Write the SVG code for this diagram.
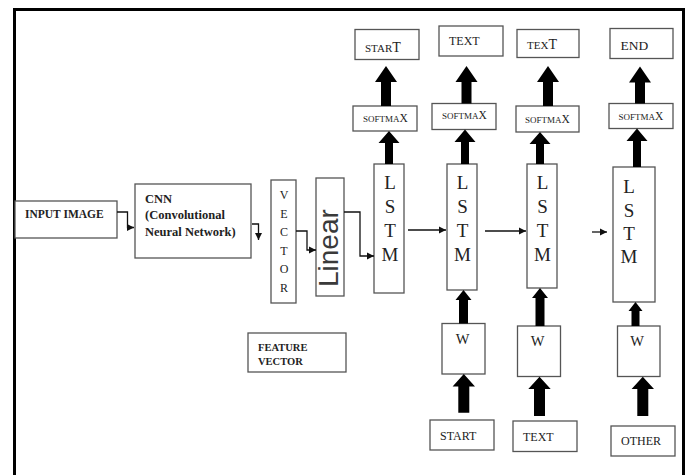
<svg xmlns="http://www.w3.org/2000/svg" width="688" height="475" viewBox="0 0 688 475">
<defs>
<style>
.box{fill:#fff;stroke:#555;stroke-width:1.3}
.t{font-family:"Liberation Serif","Times New Roman",serif;fill:#222}
.b{font-weight:bold}
.conn{fill:none;stroke:#111;stroke-width:1.3}
.big{fill:#000}
.frame{stroke:#000;stroke-width:3;fill:none}
</style>
<marker id="ah" markerWidth="8" markerHeight="8" refX="7" refY="4" orient="auto" markerUnits="userSpaceOnUse">
<path d="M0,0.5 L7,4 L0,7.5 Z" fill="#111"/>
</marker>
</defs>
<rect width="688" height="475" fill="#fff"/>
<path class="frame" d="M14.5,475 V9.5 H683.5 V475"/>

<g id="input-image"><rect class="box" x="15" y="201" width="102" height="37"/><text class="t b" x="25" y="218" font-size="11.5">INPUT IMAGE</text></g>
<g id="cnn"><rect class="box" x="135" y="184" width="116" height="74"/>
<text class="t b" x="145" y="203" font-size="12.5">CNN</text>
<text class="t b" x="145" y="219" font-size="12.5">(Convolutional</text>
<text class="t b" x="145" y="236" font-size="12.5">Neural Network)</text></g>
<g id="vector"><rect class="box" x="271" y="180" width="25" height="123"/>
<g class="t" font-size="12" text-anchor="middle"><text x="284" y="199">V</text><text x="284" y="217.5">E</text><text x="284" y="236">C</text><text x="284" y="254.5">T</text><text x="284" y="273">O</text><text x="284" y="291.5">R</text></g></g>
<g id="linear"><rect class="box" x="316" y="178" width="28" height="118"/>
<text transform="translate(338,287) rotate(-90)" font-family="'Liberation Sans',Arial,sans-serif" font-size="28" fill="#3a3a3a">Linear</text></g>
<g id="feature-vector"><rect class="box" x="248" y="333" width="98" height="39"/>
<text class="t b" x="258" y="351" font-size="10.5">FEATURE</text><text class="t b" x="258" y="364.5" font-size="10.5">VECTOR</text></g>

<g id="lstm1"><rect class="box" x="374" y="164" width="30" height="129"/>
<g class="t" font-size="19" text-anchor="middle"><text x="390" y="189">L</text><text x="390" y="213">S</text><text x="390" y="237">T</text><text x="390" y="261">M</text></g></g>
<g id="lstm2"><rect class="box" x="447" y="164" width="30" height="126"/>
<g class="t" font-size="19" text-anchor="middle"><text x="462.5" y="189">L</text><text x="462.5" y="213">S</text><text x="462.5" y="237">T</text><text x="462.5" y="261">M</text></g></g>
<g id="lstm3"><rect class="box" x="527" y="164" width="30" height="124"/>
<g class="t" font-size="19" text-anchor="middle"><text x="542.5" y="189">L</text><text x="542.5" y="213">S</text><text x="542.5" y="237">T</text><text x="542.5" y="261">M</text></g></g>
<g id="lstm4"><rect class="box" x="613" y="167" width="42" height="135"/>
<g class="t" font-size="19" text-anchor="middle"><text x="629" y="193">L</text><text x="629" y="217">S</text><text x="629" y="240">T</text><text x="629" y="263">M</text></g></g>

<g id="softmax1"><rect class="box" x="353" y="106" width="64" height="25"/><text class="t" x="363" y="122" font-size="9">SOFTMA<tspan font-size="11.5">X</tspan></text></g>
<g id="softmax2"><rect class="box" x="432" y="103.5" width="64" height="26"/><text class="t" x="442" y="119" font-size="9">SOFTMA<tspan font-size="11.5">X</tspan></text></g>
<g id="softmax3"><rect class="box" x="516" y="106" width="63" height="26"/><text class="t" x="525" y="122.5" font-size="9">SOFTMA<tspan font-size="11.5">X</tspan></text></g>
<g id="softmax4"><rect class="box" x="609" y="103.5" width="64" height="25"/><text class="t" x="618.5" y="119.5" font-size="9">SOFTMA<tspan font-size="11.5">X</tspan></text></g>

<g id="out-start"><rect class="box" x="355" y="29.5" width="64" height="30"/><text class="t" x="365" y="51.5" font-size="11">STAR<tspan font-size="14">T</tspan></text></g>
<g id="out-text1"><rect class="box" x="439" y="26" width="64" height="30"/><text class="t" x="449" y="45" font-size="12">TEXT</text></g>
<g id="out-text2"><rect class="box" x="517" y="29.5" width="62" height="28"/><text class="t" x="527" y="48.5" font-size="11">TEX<tspan font-size="14">T</tspan></text></g>
<g id="out-end"><rect class="box" x="610" y="28.5" width="63" height="30"/><text class="t" x="620.5" y="49.5" font-size="13.5">END</text></g>

<g id="w1"><rect class="box" x="442" y="323.5" width="43" height="50.5"/><text class="t" x="462.5" y="343.5" font-size="14.5" text-anchor="middle">W</text></g>
<g id="w2"><rect class="box" x="517.5" y="326" width="43" height="50.5"/><text class="t" x="537.5" y="346" font-size="14.5" text-anchor="middle">W</text></g>
<g id="w3"><rect class="box" x="617.5" y="326" width="42.5" height="50.5"/><text class="t" x="637" y="346" font-size="14.5" text-anchor="middle">W</text></g>

<g id="in-start"><rect class="box" x="430" y="420" width="64" height="30"/><text class="t" x="440" y="440" font-size="12">START</text></g>
<g id="in-text"><rect class="box" x="513" y="421" width="64" height="30.5"/><text class="t" x="523" y="440.5" font-size="12">TEXT</text></g>
<g id="in-other"><rect class="box" x="611" y="426" width="64" height="30"/><text class="t" x="621" y="445" font-size="12">OTHER</text></g>

<g id="connectors">
<path class="conn" d="M117,212 H127.5 V227.5 H134" marker-end="url(#ah)"/>
<path class="conn" d="M252,224 H258.5 V240" marker-end="url(#ah)"/>
<path class="conn" d="M296,231 H307 V250 H316" marker-end="url(#ah)"/>
<path class="conn" d="M344,212 H360 V256 H374" marker-end="url(#ah)"/>
<path class="conn" d="M408,230 H446" marker-end="url(#ah)"/>
<path class="conn" d="M485,231 H526" marker-end="url(#ah)"/>
<path class="conn" d="M592,232 H607" marker-end="url(#ah)"/>
<g class="big">
<polygon points="386,66 397,82 391,82 391,106 381,106 381,82 375,82"/>
<polygon points="466.5,66 477.5,82 471.5,82 471.5,103.5 461.5,103.5 461.5,82 455.5,82"/>
<polygon points="548,66 559,82 553,82 553,106 543,106 543,82 537,82"/>
<polygon points="640,66.5 651,82.5 645,82.5 645,103.5 635,103.5 635,82.5 629,82.5"/>
<polygon points="389,131 399.5,143 393,143 393,164 385,164 385,143 378.5,143"/>
<polygon points="465,129.5 475.5,142 469,142 469,164 461,164 461,142 454.5,142"/>
<polygon points="540,132 550.5,144 544,144 544,164 536,164 536,144 529.5,144"/>
<polygon points="637,128.5 647.5,141 641,141 641,167 633,167 633,141 626.5,141"/>
<polygon points="463.5,290 471.5,300 468,300 468,323.5 459,323.5 459,300 455.5,300"/>
<polygon points="540,288 548,298 544.5,298 544.5,326 535.5,326 535.5,298 532,298"/>
<polygon points="635.5,302 642.5,311 639.5,311 639.5,326 631.5,326 631.5,311 628.5,311"/>
<polygon points="463.8,374 475,386.5 469.3,386.5 469.3,412.7 458.3,412.7 458.3,386.5 452.6,386.5"/>
<polygon points="539.5,376.7 550.7,389 545,389 545,416 534,416 534,389 528.3,389"/>
<polygon points="642.8,376.7 654,389 648.3,389 648.3,416 637.3,416 637.3,389 631.6,389"/>
</g>
</g>
</svg>
